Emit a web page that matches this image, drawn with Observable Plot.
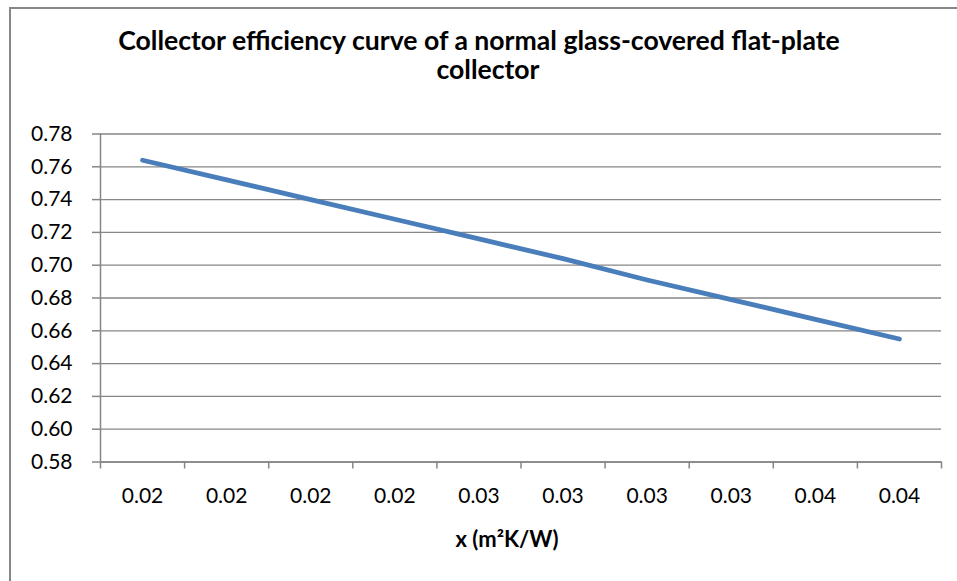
<!DOCTYPE html>
<html>
<head>
<meta charset="utf-8">
<script src="https://cdn.jsdelivr.net/npm/d3@7"></script>
<script src="https://cdn.jsdelivr.net/npm/@observablehq/plot@0.6"></script>
<style>
  html, body { margin: 0; padding: 0; background: #fff; }
  #root { position: relative; width: 957px; height: 581px; overflow: hidden; font-family: Lato, "Open Sans", sans-serif; color: #000; }
  #frame { position: absolute; left: 9px; top: 7px; width: 2000px; height: 2000px; border: 2px solid #878787; box-sizing: border-box; }
  .title { position: absolute; font-weight: bold; font-size: 26.6px; white-space: nowrap; transform: translate(-50%, -50%); }
  #chart { position: absolute; left: 0; top: 0; }
  #xtitle { position: absolute; font-weight: bold; font-size: 22px; white-space: nowrap; transform: translate(-50%, -50%); }
</style>
</head>
<body>
<div id="root">
  <div id="frame"></div>
  <div id="chart"></div>
  <div class="title" id="t1" style="left:479px; top:40px;">Collector efficiency curve of a normal glass-covered flat-plate</div>
  <div class="title" id="t2" style="left:488px; top:69px;">collector</div>
  <div id="xtitle" style="left:507px; top:538px;">x (m²K/W)</div>
</div>
<script>
const xLabels = ["0.02", "0.02", "0.02", "0.02", "0.03", "0.03", "0.03", "0.03", "0.04", "0.04"];
const efficiency = [0.764, 0.752, 0.740, 0.728, 0.716, 0.704, 0.691, 0.679, 0.667, 0.655];
const yTicks = [0.58, 0.60, 0.62, 0.64, 0.66, 0.68, 0.70, 0.72, 0.74, 0.76, 0.78];

const data = efficiency.map((v, i) => ({pos: i + 0.5, value: v}));
const catBounds = d3.range(0, xLabels.length + 1);
const catCenters = xLabels.map((_, i) => i + 0.5);
const gray = "#868686";
const fs = 21;

const plot = Plot.plot({
  width: 957,
  height: 581,
  marginTop: 133.5,
  marginBottom: 119.5,
  marginLeft: 100,
  marginRight: 16,
  style: {fontFamily: "Lato, 'Open Sans', sans-serif", fontSize: "21px", color: "#000", background: "transparent"},
  x: {domain: [0, xLabels.length]},
  y: {domain: [0.58, 0.78]},
  marks: [
    Plot.gridY(yTicks, {stroke: gray, strokeOpacity: 1, strokeWidth: 1.3}),
    Plot.ruleX([0], {stroke: gray, strokeWidth: 1.5}),
    Plot.ruleY([0.58], {stroke: gray, strokeWidth: 1.5}),
    Plot.axisY({ticks: yTicks, tickFormat: d => d.toFixed(2), tickSize: 8, tickPadding: 20, stroke: gray, strokeWidth: 1.5, label: null, fill: "#000", fontSize: fs}),
    Plot.axisX({ticks: catBounds, tickFormat: () => "", tickSize: 7, stroke: gray, strokeWidth: 1.5, label: null}),
    Plot.axisX({ticks: catCenters, tickFormat: d => xLabels[Math.floor(d)], tickSize: 0, tickPadding: 26, label: null, fill: "#000", fontSize: fs}),
    Plot.line(data, {x: "pos", y: "value", stroke: "#4a7ebb", strokeWidth: 4.8, strokeLinecap: "round"})
  ]
});
document.getElementById("chart").appendChild(plot);
</script>
</body>
</html>
